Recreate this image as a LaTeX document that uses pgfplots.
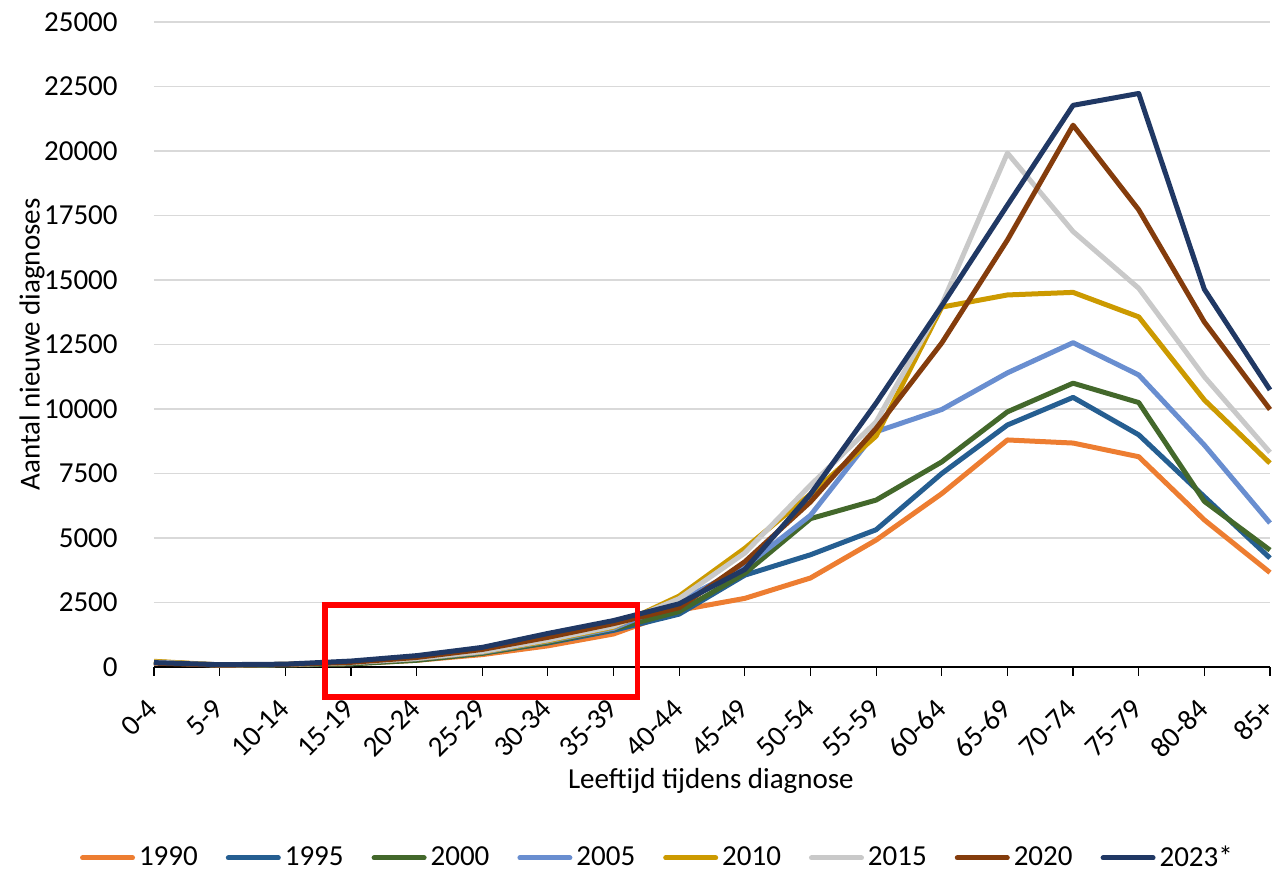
\documentclass[border=0pt]{standalone}
\usepackage{pgfplots}
\pgfplotsset{compat=1.18}
\usepackage{fontspec}
\setmainfont{Carlito}
\definecolor{c1990}{HTML}{ED7D31}
\definecolor{c1995}{HTML}{255E91}
\definecolor{c2000}{HTML}{43682B}
\definecolor{c2005}{HTML}{698ED0}
\definecolor{c2010}{HTML}{CC9A00}
\definecolor{c2015}{HTML}{C9C9C9}
\definecolor{c2020}{HTML}{843C0C}
\definecolor{c2023}{HTML}{203864}
\definecolor{gridc}{HTML}{D9D9D9}
\begin{document}
\fontsize{14.5pt}{17pt}\selectfont
\begin{tikzpicture}
\path[use as bounding box] (-77pt,-102pt) rectangle (559.5pt,333.5pt);
\begin{axis}[
  at={(0,0)}, anchor=south west,
  scale only axis, width=558pt, height=322.5pt,
  xmin=0, xmax=17, ymin=0, ymax=25000,
  clip=false,
  axis x line*=bottom, axis y line*=left,
  x axis line style={-, black, line width=0.8pt},
  y axis line style={draw=none},
  xtick={0,...,17},
  xticklabels={0-4,5-9,10-14,15-19,20-24,25-29,30-34,35-39,40-44,45-49,50-54,55-59,60-64,65-69,70-74,75-79,80-84,85+},
  ytick={0,2500,...,25000},
  scaled y ticks=false,
  tick align=outside, major tick length=4.5pt,
  xtick style={black, line width=0.6pt},
  ytick style={draw=none},
  ymajorgrids, grid style={gridc, line width=0.75pt},
  /pgf/number format/assume math mode=true,
  /pgf/number format/1000 sep={},
  ticklabel style={font=\fontsize{14.5pt}{17pt}\selectfont},
  yticklabel style={anchor=east, inner sep=0pt, xshift=-13.5pt},
  xticklabel style={xshift=-4pt, yshift=-10.5pt, rotate=45, anchor=north east, inner sep=0pt},
  xlabel={Leeftijd tijdens diagnose},
  xlabel style={at={(axis description cs:0.499,-0.1767)}, anchor=center},
  ylabel={Aantal nieuwe diagnoses},
  ylabel style={at={(axis description cs:-0.1093,0.5)}, anchor=center},
  legend columns=8,
  legend style={at={(axis description cs:0.452,-0.296)}, anchor=center, draw=none, fill=none,
    font=\fontsize{14.5pt}{17pt}\selectfont,
    /tikz/every even column/.append style={column sep=12pt}},
  legend image code/.code={\draw[line width=2.5pt, line cap=round] (0pt,0pt) -- (25pt,0pt);},
  every axis plot/.append style={line width=2.5pt, line join=round, mark=none},
]
\addplot[c1990] coordinates {(0,200)(1,80)(2,90)(3,130)(4,260)(5,480)(6,820)(7,1280)(8,2200)(9,2660)(10,3450)(11,4920)(12,6720)(13,8800)(14,8680)(15,8150)(16,5700)(17,3660)};
\addlegendentry{1990}
\addplot[c1995] coordinates {(0,180)(1,70)(2,90)(3,150)(4,290)(5,540)(6,930)(7,1420)(8,2050)(9,3560)(10,4350)(11,5320)(12,7500)(13,9380)(14,10450)(15,9000)(16,6600)(17,4220)};
\addlegendentry{1995}
\addplot[c2000] coordinates {(0,200)(1,70)(2,80)(3,120)(4,260)(5,530)(6,950)(7,1480)(8,2150)(9,3630)(10,5750)(11,6470)(12,7950)(13,9890)(14,11000)(15,10250)(16,6420)(17,4530)};
\addlegendentry{2000}
\addplot[c2005] coordinates {(0,190)(1,80)(2,100)(3,160)(4,320)(5,570)(6,1000)(7,1500)(8,2550)(9,3880)(10,5880)(11,9120)(12,9980)(13,11400)(14,12570)(15,11320)(16,8600)(17,5580)};
\addlegendentry{2005}
\addplot[c2010] coordinates {(0,220)(1,80)(2,100)(3,170)(4,330)(5,590)(6,1020)(7,1550)(8,2750)(9,4600)(10,6700)(11,8950)(12,13950)(13,14420)(14,14520)(15,13570)(16,10350)(17,7900)};
\addlegendentry{2010}
\addplot[c2015] coordinates {(0,190)(1,80)(2,100)(3,170)(4,330)(5,600)(6,1050)(7,1580)(8,2650)(9,4420)(10,7050)(11,9500)(12,14050)(13,19920)(14,16880)(15,14680)(16,11250)(17,8320)};
\addlegendentry{2015}
\addplot[c2020] coordinates {(0,150)(1,70)(2,100)(3,180)(4,370)(5,680)(6,1150)(7,1680)(8,2300)(9,4080)(10,6400)(11,9250)(12,12560)(13,16550)(14,21000)(15,17720)(16,13370)(17,9980)};
\addlegendentry{2020}
\addplot[c2023] coordinates {(0,170)(1,90)(2,110)(3,230)(4,440)(5,760)(6,1300)(7,1800)(8,2450)(9,3780)(10,6700)(11,10230)(12,14000)(13,17900)(14,21770)(15,22230)(16,14640)(17,10740)};
\addlegendentry{2023*}
\draw[red, line width=2.6pt] (axis cs:2.605,2403) rectangle (axis cs:7.37,-1163);
\end{axis}
\end{tikzpicture}
\end{document}
